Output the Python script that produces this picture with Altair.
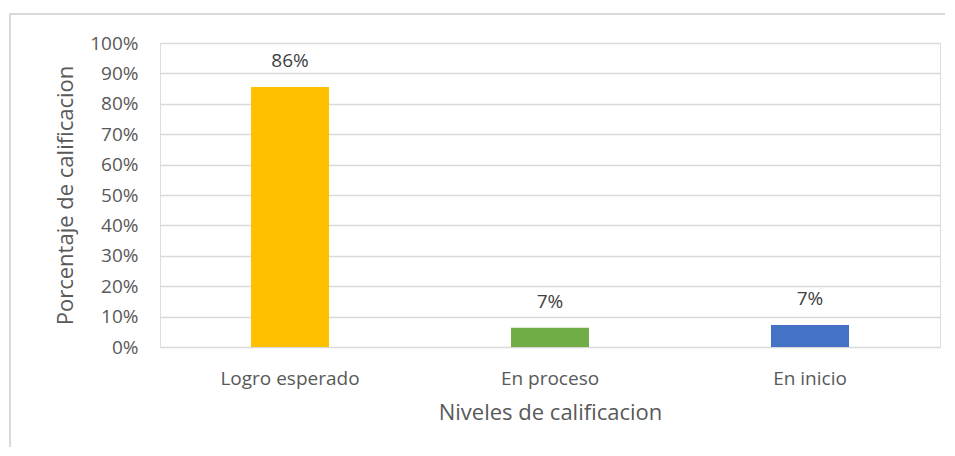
import altair as alt
import pandas as pd

categories = ["Logro esperado", "En proceso", "En inicio"]
values = [0.855, 0.063, 0.072]
labels = ["86%", "7%", "7%"]
colors = ["#FFC000", "#70AD47", "#4472C4"]
ticks = [0, 0.1, 0.2, 0.3, 0.4, 0.5, 0.6, 0.7, 0.8, 0.9, 1.0]

df = pd.DataFrame({"cat": categories, "val": values, "lab": labels, "col": colors})

FONT = "Open Sans"

x = alt.X("cat:N", sort=categories, title="Niveles de calificacion",
          scale=alt.Scale(paddingInner=0.7, paddingOuter=0.35),
          axis=alt.Axis(labelAngle=0, domain=False, ticks=False, labelPadding=22,
                        labelFontSize=19, titleFontSize=22, titlePadding=14,
                        labelColor="#595959", titleColor="#595959", labelOverlap=False,
                        labelFont=FONT, titleFont=FONT, titleFontWeight="normal"))
y = alt.Y("val:Q", title="Porcentaje de calificacion",
          scale=alt.Scale(domain=[0, 1]),
          axis=alt.Axis(format=".0%", values=ticks, domain=False, ticks=False,
                        labelPadding=22, labelFontSize=19, titleFontSize=22, titlePadding=12,
                        labelColor="#595959", titleColor="#595959", gridColor="#d9d9d9",
                        gridWidth=1.5, labelFont=FONT, titleFont=FONT, titleFontWeight="normal",
                        labelOverlap=False))

bars = alt.Chart(df).mark_bar().encode(x=x, y=y, color=alt.Color("col:N", scale=None))
text = alt.Chart(df).mark_text(dy=-26, fontSize=19, color="#404040", font=FONT).encode(
    x=x, y=y, text="lab:N")

frame = alt.Chart(df).mark_rect(fill=None, stroke="#d9d9d9", strokeWidth=1.5, clip=False).encode(
    x=alt.value(-150), x2=alt.value(820), y=alt.value(-29), y2=alt.value(500))

chart = alt.layer(bars, text, frame).properties(
    width=780, height=304,
    autosize=alt.AutoSizeParams(type="none"),
    padding={"left": 152, "top": 35, "right": 5, "bottom": 100},
).configure_view(stroke=None).configure(background="white")

chart.save("out.html", embed_options={"renderer": "svg", "actions": False})
